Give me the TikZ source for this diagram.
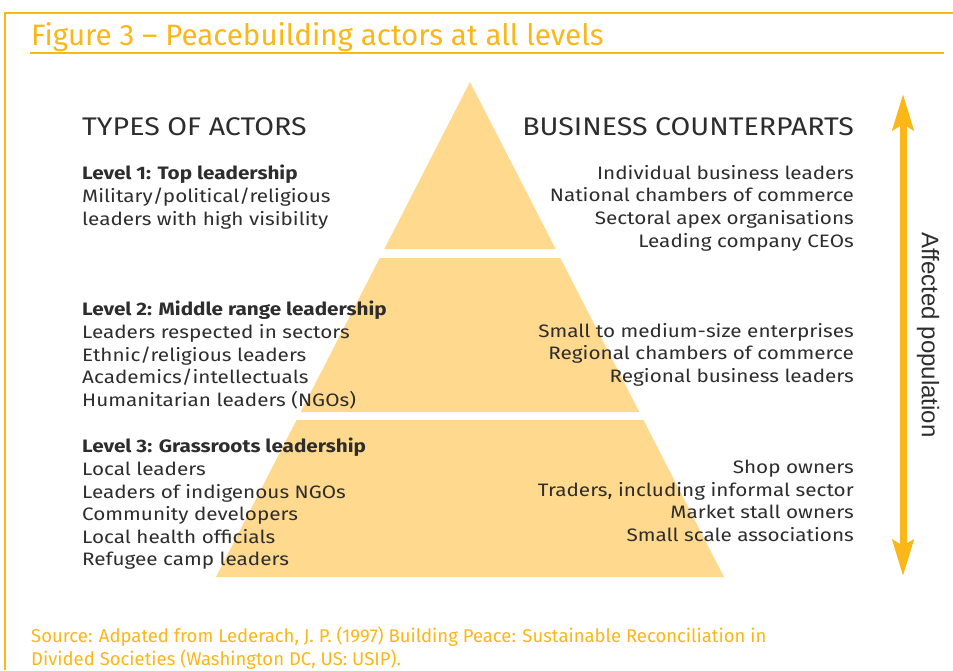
\documentclass[tikz,border=0pt]{standalone}
\usepackage{fontspec}
\setmainfont{Fira Sans}[FakeStretch=1.15]
\newfontfamily\titlefont{Fira Sans}
\newfontfamily\headfont[FakeStretch=1.12]{Fira Sans}
\newfontfamily\popfont{Liberation Sans}
\usetikzlibrary{arrows.meta}
\definecolor{peaceorange}{HTML}{FBB617}
\definecolor{pyramidfill}{HTML}{FFD98D}
\definecolor{inkgrey}{HTML}{2D2D2D}
\tikzset{band/.style={fill=pyramidfill},
  rim/.style={draw=peaceorange, line width=2.5pt},
  leftcol/.style={anchor=north west, align=left, inner sep=0pt, text=inkgrey,
    font=\fontsize{18}{22.6}\selectfont},
  rightcol/.style={leftcol, anchor=north east, align=right},
  colhead/.style={inner sep=0pt, text=inkgrey, font=\headfont\fontsize{25.5}{30}\selectfont}}

\begin{document}
\begin{tikzpicture}[x=1pt, y=-1pt]
    \useasboundingbox (0,0) rectangle (953,670);
    \draw[rim] (5,670) -- (5,13) -- (953,13);
    \node[anchor=base west, inner sep=0pt, text=peaceorange,
      font=\titlefont\fontsize{29.5}{34}\selectfont] (title) at (31,45)
      {Figure 3 – Peacebuilding actors at all levels};
    \draw[peaceorange, line width=1.8pt] (30,53) -- (944,53);

    \foreach \ya/\yb in {82/249, 258/412, 420/577}
      \fill[band] ({470-0.5131*(\ya-82)},\ya) -- ({470+0.5131*(\ya-82)},\ya)
        -- ({470+0.5131*(\yb-82)},\yb) -- ({470-0.5131*(\yb-82)},\yb) -- cycle;

    \node[colhead, anchor=north west] (typeshead) at (82,117) {TYPES OF ACTORS};
    \node[colhead, anchor=north east] (bizhead) at (854,117) {BUSINESS COUNTERPARTS};

    \node[leftcol] (lvlone) at (82,165) {\textbf{Level 1: Top leadership}\\
      Military/political/religious\\leaders with high visibility};
    \node[rightcol] (bizone) at (854,165) {Individual business leaders\\
      National chambers of commerce\\Sectoral apex organisations\\Leading company CEOs};
    \node[leftcol] (lvltwo) at (82,301) {\textbf{Level 2: Middle range leadership}\\
      Leaders respected in sectors\\Ethnic/religious leaders\\Academics/intellectuals\\
      Humanitarian leaders (NGOs)};
    \node[rightcol] (biztwo) at (854,323) {Small to medium-size enterprises\\
      Regional chambers of commerce\\Regional business leaders};
    \node[leftcol] (lvlthree) at (82,438) {\textbf{Level 3: Grassroots leadership}\\
      Local leaders\\Leaders of indigenous NGOs\\Community developers\\
      Local health officials\\Refugee camp leaders};
    \node[rightcol] (bizthree) at (854,460) {Shop owners\\
      Traders, including informal sector\\Market stall owners\\Small scale associations};

    \coordinate (poptop) at (903,94);
    \coordinate (popbot) at (903,576);
    \draw[peaceorange, line width=7pt,
      {Stealth[length=36pt, width=21pt, inset=6pt]}-{Stealth[length=36pt, width=21pt, inset=6pt]}]
      (poptop) -- (popbot);
    \node[rotate=-90, text=inkgrey, font=\popfont\fontsize{24}{28}\selectfont]
      (popl) at (928,335) {Affected population};

    \node[anchor=north west, align=left, inner sep=0pt, text=peaceorange,
      font=\titlefont\fontsize{18.5}{23}\selectfont] (source) at (31,627)
      {Source: Adpated from Lederach, J. P. (1997) Building Peace: Sustainable Reconciliation in\\
      Divided Societies (Washington DC, US: USIP).};
\end{tikzpicture}
\end{document}
